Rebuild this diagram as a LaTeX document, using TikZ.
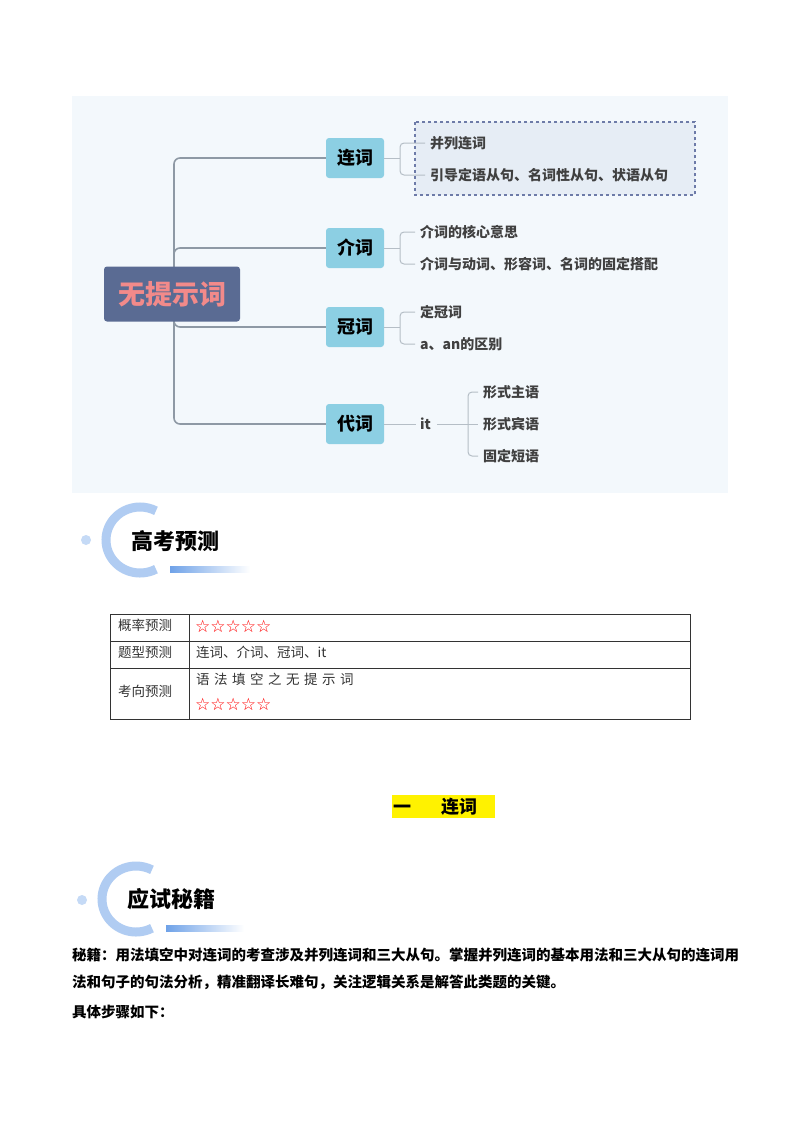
\documentclass[tikz,border=0pt]{standalone}
\usepackage{fontspec}
\setmainfont{Noto Sans CJK SC}
\newfontfamily\symf{DejaVu Sans}
\usetikzlibrary{shadings}
\definecolor{bgc}{HTML}{F3F8FC}
\definecolor{cen}{HTML}{5A6B93}
\definecolor{cent}{HTML}{F28A8A}
\definecolor{br}{HTML}{8CCFE3}
\definecolor{ln}{HTML}{8E99A5}
\definecolor{lnl}{HTML}{B5BEC6}
\definecolor{dbox}{HTML}{E6EDF5}
\definecolor{dbord}{HTML}{6D7BA8}
\definecolor{hblue}{HTML}{6FA2E8}
\begin{document}
\begin{tikzpicture}[x=1pt,y=-1pt,
  branch/.style={fill=br,rounded corners=3pt,minimum width=58pt,minimum height=40pt,font=\fontsize{18}{18}\selectfont\bfseries},
  leaf/.style={anchor=west,inner sep=0pt,font=\fontsize{14}{14}\selectfont\bfseries,text=black!75},
  trunk/.style={draw=ln,line width=1.6pt,rounded corners=6pt},
  twig/.style={draw=lnl,line width=1pt,rounded corners=4pt},
  cell/.style={anchor=west,inner sep=0pt,font=\fontsize{13.5}{14}\selectfont,text=black!80},
  star/.style={anchor=west,inner sep=0pt,text=red,font=\symf\fontsize{17}{17}\selectfont},
  body/.style={anchor=west,inner sep=0pt,font=\fontsize{14.5}{15}\selectfont\bfseries},
  ring/.style={line width=9pt,hblue!55}]
\useasboundingbox (0,0) rectangle (800,1132);
\fill[white] (0,0) rectangle (800,1132);
% mindmap
\fill[bgc] (72,96) rectangle (728,493);
\fill[dbox] (415,122) rectangle (695,195);
\draw[dbord,dashed,line width=1.2pt] (415,122) rectangle (695,195);
\node[branch] (b1) at (355,158) {连词};
\node[branch] (b2) at (355,248) {介词};
\node[branch] (b3) at (355,327) {冠词};
\node[branch] (b4) at (355,424) {代词};
\path[trunk] (b1.west) -- (174,158) -- (174,424) -- (b4.west);
\path[trunk] (174,258) |- (b2.west);
\path[trunk] (174,317) |- (b3.west);
\node[fill=cen,rounded corners=3pt,minimum width=136pt,minimum height=55pt,text=cent,font=\fontsize{27}{27}\selectfont\bfseries] (c) at (172,294) {无提示词};
% leaves
\node[leaf] (l11) at (430,143) {并列连词};
\node[leaf] (l12) at (430,175) {引导定语从句、名词性从句、状语从句};
\node[leaf] (l21) at (420,232) {介词的核心意思};
\node[leaf] (l22) at (420,264) {介词与动词、形容词、名词的固定搭配};
\node[leaf] (l31) at (420,312) {定冠词};
\node[leaf] (l32) at (420,344) {a、an的区别};
\node[leaf] (it) at (420,424) {it};
\node[leaf] (l41) at (483,392) {形式主语};
\node[leaf] (l42) at (483,424) {形式宾语};
\node[leaf] (l43) at (483,456) {固定短语};
\path[twig] (b1.east) -- (400,158);
\path[twig] (l11.west) ++(-5,0) -- (400,143) -- (400,175) -- ([xshift=-5pt]l12.west);
\path[twig] (b2.east) -- (400,248);
\path[twig] (l21.west) ++(-5,0) -- (400,232) -- (400,264) -- ([xshift=-5pt]l22.west);
\path[twig] (b3.east) -- (400,327);
\path[twig] (l31.west) ++(-5,0) -- (400,312) -- (400,344) -- ([xshift=-5pt]l32.west);
\path[twig] (b4.east) -- ([xshift=-4pt]it.west);
\path[twig] ([xshift=6pt]it.east) -- (468,424);
\path[twig] (l41.west) ++(-5,0) -- (468,392) -- (468,456) -- ([xshift=-5pt]l43.west);
\path[twig] (468,424) -- ([xshift=-5pt]l42.west);
% heading 1
\fill[hblue!40] (86,540) circle (5);
\draw[ring] (140,540) ++(62:34 and 33) arc (62:298:34 and 33);
\shade[left color=hblue,right color=white] (170,566) rectangle (250,572);
\node[anchor=west,font=\fontsize{22}{22}\selectfont\bfseries] (h1) at (128,541) {高考预测};
% table
\draw[black!80,line width=0.7pt] (110,614) rectangle (690,719);
\draw[black!80,line width=0.7pt] (110,641) -- (690,641) (110,668) -- (690,668) (189,614) -- (189,719);
\node[cell] (t1) at (118,625) {概率预测};
\node[cell] (t2) at (118,652) {题型预测};
\node[cell] (t3) at (118,691) {考向预测};
\node[star] (s1) at (195,626) {☆☆☆☆☆};
\node[cell] (t4) at (196,652) {连词、介词、冠词、it};
\node[cell] (t5) at (196,679) {语\,\,法\,\,填\,\,空\,\,之\,\,无\,\,提\,\,示\,\,词};
\node[star] (s2) at (195,704) {☆☆☆☆☆};
% section title
\fill[yellow] (392,795) rectangle (495,818);
\node[anchor=west,inner sep=0pt,font=\fontsize{18}{18}\selectfont\bfseries] (sec) at (393,807) {一\hspace{30pt}连词};
% heading 2
\fill[hblue!40] (82,900) circle (5);
\draw[ring] (136,899) ++(62:34 and 33) arc (62:298:34 and 33);
\shade[left color=hblue,right color=white] (166,925) rectangle (244,931);
\node[anchor=west,font=\fontsize{22}{22}\selectfont\bfseries] (h2) at (124,899) {应试秘籍};
% body
\node[body] (p1) at (72,955) {秘籍：用法填空中对连词的考查涉及并列连词和三大从句。掌握并列连词的基本用法和三大从句的连词用};
\node[body] (p2) at (72,982) {法和句子的句法分析，精准翻译长难句，关注逻辑关系是解答此类题的关键。};
\node[body] (p3) at (72,1012) {具体步骤如下：};
\end{tikzpicture}
\end{document}
